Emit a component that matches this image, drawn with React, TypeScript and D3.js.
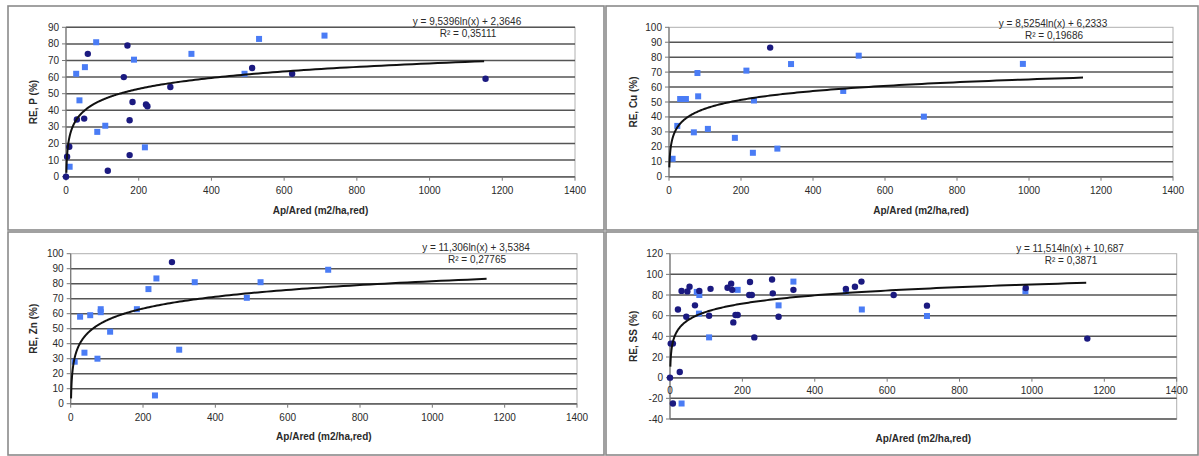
import React from "react";
import * as d3 from "d3";

// ---------- data (x = Ap/Ared, y = RE %) ----------
const X_TICKS = [0, 200, 400, 600, 800, 1000, 1200, 1400];

const P_DARK: [number, number][] = [
  [0, 0], [3, 12], [9, 18], [30, 34.5], [50, 35], [60, 74], [115, 3.6], [159, 60],
  [169, 79], [175, 34], [183, 45], [175, 13], [220, 43.5], [224, 42.4], [287, 54],
  [512, 65.5], [622, 62], [1154, 59],
];
const P_LIGHT: [number, number][] = [
  [10, 6], [28, 62], [37, 46], [52, 66], [83, 81], [86, 27], [108, 30.7], [187, 70.5],
  [217, 17.7], [345, 74], [491, 62], [531, 83], [711, 85],
];

const CU_DARK: [number, number][] = [[281, 86.4]];
const CU_LIGHT: [number, number][] = [
  [10, 12], [23, 34], [31, 52], [47, 52], [79, 69.4], [81, 53.8], [69, 29.7], [108, 32],
  [183, 26], [215, 71], [233, 16], [236, 51], [301, 18.8], [339, 75.4], [484, 57.4],
  [527, 81], [983, 75.5], [708, 40.2],
];

const ZN_DARK: [number, number][] = [[280, 94.4]];
const ZN_LIGHT: [number, number][] = [
  [11, 28], [26, 58], [38, 34], [54, 59], [74, 30], [83, 63], [83, 61], [109, 48],
  [183, 63], [215, 76.4], [237, 83.5], [233, 5.5], [300, 36], [343, 81], [487, 70.6],
  [525, 81], [712, 89.3],
];

const SS_DARK: [number, number][] = [
  [0, 0], [2, 33], [8, 33], [8, -25], [22, 66], [27, 5.5], [32, 84], [48, 83.5],
  [54, 88], [45, 59], [69, 70], [81, 84], [112, 86], [108, 60], [159, 87], [169, 91],
  [175, 53.5], [181, 60.6], [187, 60.6], [172, 85], [221, 92.6], [219, 80], [226, 80],
  [233, 39], [282, 95], [284, 81.6], [300, 59], [341, 85], [486, 86], [511, 88],
  [529, 93], [618, 80], [710, 69.7], [983, 86.8], [1153, 37.8],
];
const SS_LIGHT: [number, number][] = [
  [32, -25], [74, 83], [81, 80], [80, 62], [108, 39], [187, 85], [300, 70], [341, 93],
  [486, 83.5], [530, 66], [710, 59.7], [982, 83.6],
];

const P_TREND = { a: 9.5396, b: 2.3646, eq: "y = 9,5396ln(x) + 2,3646", r2: "R² = 0,35111" };
const CU_TREND = { a: 8.5254, b: 6.2333, eq: "y = 8,5254ln(x) + 6,2333", r2: "R² = 0,19686" };
const ZN_TREND = { a: 11.306, b: 3.5384, eq: "y = 11,306ln(x) + 3,5384", r2: "R² = 0,27765" };
const SS_TREND = { a: 11.514, b: 10.687, eq: "y = 11,514ln(x) + 10,687", r2: "R² = 0,3871" };

const X_TITLE = "Ap/Ared (m2/ha,red)";

// ---------- styling ----------
const FONT = "'Liberation Sans', Arial, sans-serif";
const DARK = "#1b1a80";
const LIGHT = "#4a7cf5";
const GRID = "#555";
const TXT = "#2a2a2a";

type PanelProps = {
  frame: [number, number, number, number];
  px0: number; px1: number; pyTop: number; pyBot: number;
  yMin: number; yMax: number; yStep: number;
  gridTop: boolean;
  yTitle: string; yTitleX: number;
  tickLabelY: number; titleY: number;
  eqX: number; eqY: number;
  trend: { a: number; b: number; eq: string; r2: string };
  dark: [number, number][]; light: [number, number][];
  trendEnd: number;
};

function Panel(p: PanelProps) {
  const x = d3.scaleLinear().domain([0, 1400]).range([p.px0, p.px1]);
  const y = d3.scaleLinear().domain([p.yMin, p.yMax]).range([p.pyBot, p.pyTop]);
  const yTicks = d3.range(p.yMin, p.yMax + 0.001, p.yStep);
  const axisY = y(Math.max(0, p.yMin));
  const xs = d3.range(0, 301).map((i) => Math.exp((Math.log(p.trendEnd) * i) / 300));
  const line = d3
    .line<number>()
    .x((v) => x(v))
    .y((v) => y(p.trend.a * Math.log(v) + p.trend.b));
  const [fx, fy, fw, fh] = p.frame;
  const midY = (p.pyTop + p.pyBot) / 2;
  return (
    <g fontFamily={FONT}>
      <rect x={fx} y={fy} width={fw} height={fh} fill="#fff" stroke="#8a8a8a" strokeWidth={1.6} />
      <rect x={p.px0} y={p.pyTop} width={p.px1 - p.px0} height={p.pyBot - p.pyTop} fill="none" stroke="#b0b0b0" strokeWidth={1} />
      {yTicks.map((t) =>
        t === p.yMax && !p.gridTop ? null : (
          <line key={"g" + t} x1={p.px0} x2={p.px1} y1={y(t)} y2={y(t)} stroke={GRID} strokeWidth={1.5} />
        )
      )}
      <line x1={p.px0} x2={p.px0} y1={p.pyTop} y2={p.pyBot} stroke="#777" strokeWidth={1.2} />
      {yTicks.map((t) => (
        <g key={"yt" + t}>
          <line x1={p.px0 - 4} x2={p.px0} y1={y(t)} y2={y(t)} stroke="#777" strokeWidth={1} />
          <text x={p.px0 - 7} y={y(t) + 3.5} textAnchor="end" fontSize={10} fill={TXT}>
            {t}
          </text>
        </g>
      ))}
      <line x1={p.px0} x2={p.px1} y1={axisY} y2={axisY} stroke="#666" strokeWidth={1.4} />
      {X_TICKS.map((t) => (
        <g key={"xt" + t}>
          <line x1={x(t)} x2={x(t)} y1={axisY} y2={axisY + 4} stroke="#777" strokeWidth={1} />
          <text x={x(t)} y={p.tickLabelY + 3.5} textAnchor="middle" fontSize={10} fill={TXT}>
            {t}
          </text>
        </g>
      ))}
      <text x={(p.px0 + p.px1) / 2} y={p.titleY + 4} textAnchor="middle" fontSize={10} fontWeight="bold" fill={TXT}>
        {X_TITLE}
      </text>
      <text
        transform={`translate(${p.yTitleX + 3.5},${midY}) rotate(-90)`}
        textAnchor="middle"
        fontSize={10}
        fontWeight="bold"
        fill={TXT}
      >
        {p.yTitle}
      </text>
      {p.light.map(([vx, vy], i) => (
        <rect key={"l" + i} x={x(vx) - 3} y={y(vy) - 3} width={6} height={6} fill={LIGHT} />
      ))}
      {p.dark.map(([vx, vy], i) => (
        <circle key={"d" + i} cx={x(vx)} cy={y(vy)} r={3.2} fill={DARK} />
      ))}
      <path d={line(xs) || ""} fill="none" stroke="#111" strokeWidth={2} />
      <text x={p.eqX} y={p.eqY + 3.5} textAnchor="middle" fontSize={10} fill={TXT}>
        {p.trend.eq}
      </text>
      <text x={p.eqX + 1} y={p.eqY + 15.5} textAnchor="middle" fontSize={10} fill={TXT}>
        {p.trend.r2}
      </text>
    </g>
  );
}

export default function App() {
  return (
    <svg width={1199} height={456} style={{ position: "absolute", left: 0, top: 0, background: "#fff" }}>
      <rect x={0} y={0} width={1199} height={456} fill="#fff" />
      <Panel
        frame={[8, 6, 596, 224]}
        px0={66} px1={575} pyTop={27.3} pyBot={176.7}
        yMin={0} yMax={90} yStep={10} gridTop={true}
        yTitle="RE, P (%)" yTitleX={33}
        tickLabelY={190} titleY={210}
        eqX={467} eqY={21}
        trend={P_TREND} dark={P_DARK} light={P_LIGHT} trendEnd={1150}
      />
      <Panel
        frame={[606, 6, 592, 224]}
        px0={669} px1={1173} pyTop={27.3} pyBot={176.7}
        yMin={0} yMax={100} yStep={10} gridTop={false}
        yTitle="RE, Cu (%)" yTitleX={633}
        tickLabelY={190} titleY={210}
        eqX={1053} eqY={23}
        trend={CU_TREND} dark={CU_DARK} light={CU_LIGHT} trendEnd={1150}
      />
      <Panel
        frame={[8, 232, 596, 223]}
        px0={70.7} px1={577} pyTop={253.7} pyBot={403.7}
        yMin={0} yMax={100} yStep={10} gridTop={false}
        yTitle="RE, Zn (%)" yTitleX={33}
        tickLabelY={417} titleY={436}
        eqX={476} eqY={247}
        trend={ZN_TREND} dark={ZN_DARK} light={ZN_LIGHT} trendEnd={1150}
      />
      <Panel
        frame={[606, 232, 592, 223]}
        px0={670} px1={1176.7} pyTop={253.7} pyBot={419}
        yMin={-40} yMax={120} yStep={20} gridTop={false}
        yTitle="RE, SS (%)" yTitleX={633}
        tickLabelY={390.7} titleY={438}
        eqX={1070} eqY={248.7}
        trend={SS_TREND} dark={SS_DARK} light={SS_LIGHT} trendEnd={1150}
      />
    </svg>
  );
}
